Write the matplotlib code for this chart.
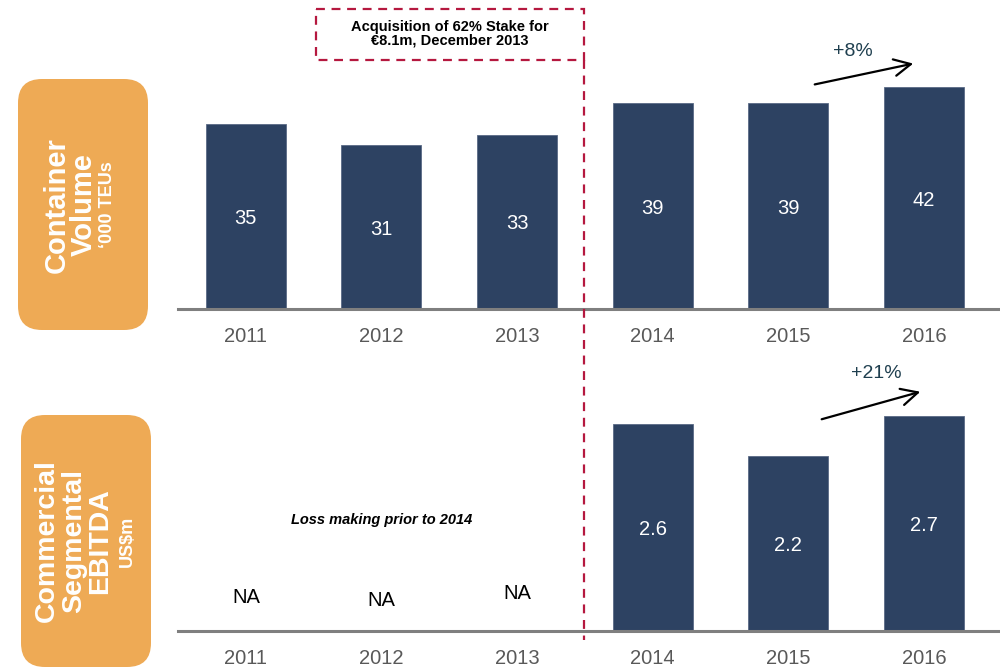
import numpy as np
import matplotlib.pyplot as plt
from matplotlib.patches import FancyBboxPatch, Rectangle

plt.rcParams['font.family'] = ['Liberation Sans', 'DejaVu Sans']

years = ['2011', '2012', '2013', '2014', '2015', '2016']
volume = [35, 31, 33, 39, 39, 42]
ebitda_years = ['2014', '2015', '2016']
ebitda = [2.6, 2.2, 2.7]
na_years = ['2011', '2012', '2013']
na_label_y = [0.45, 0.41, 0.50]

bar_color = '#2D4262'
orange = '#EEAA55'
red = '#B5183F'
teal = '#1F3F4F'
W, H = 1000, 668

fig = plt.figure(figsize=(10, 6.68), dpi=100)


def style_axes(ax):
    for s in ['top', 'left', 'right']:
        ax.spines[s].set_visible(False)
    ax.spines['bottom'].set_color('#7f7f7f')
    ax.spines['bottom'].set_linewidth(2.2)
    ax.set_yticks([])
    ax.set_xticks(range(len(years)))
    ax.set_xticklabels(years, fontsize=14.5, color='#595959')
    ax.tick_params(axis='x', length=0, pad=13)
    ax.set_xlim(-0.5, 5.56)
    ax.patch.set_alpha(0)


# top panel: container volume
ax1 = fig.add_axes([0.178, 359 / H, 0.822, 269 / H])
x = np.arange(len(years))
ax1.bar(x, volume, width=0.59, color=bar_color, edgecolor='#5a6a85', linewidth=0.6)
for xi, v in zip(x, volume):
    ax1.text(xi, v / 2, str(v), ha='center', va='center_baseline', color='white', fontsize=14.5)
ax1.set_ylim(0, 50.95)
style_axes(ax1)

# bottom panel: EBITDA
ax2 = fig.add_axes([0.178, 37 / H, 0.822, 251 / H])
xe = [years.index(y) for y in ebitda_years]
ax2.bar(xe, ebitda, width=0.59, color=bar_color, edgecolor='#5a6a85', linewidth=0.6)
for xi, v in zip(xe, ebitda):
    ax2.text(xi, v / 2, str(v), ha='center', va='center_baseline', color='white', fontsize=14.5)
for yr, ly in zip(na_years, na_label_y):
    ax2.text(years.index(yr), ly, 'NA', ha='center', va='center_baseline', color='black', fontsize=14.5)
ax2.text(1, 1.39, 'Loss making prior to 2014', ha='center', va='center',
         fontsize=10.5, fontweight='bold', fontstyle='italic')
ax2.set_ylim(0, 3.157)
style_axes(ax2)

# overlay in pixel coordinates for annotations
ax_over = fig.add_axes([0, 0, 1, 1])
ax_over.set_xlim(0, W)
ax_over.set_ylim(H, 0)
ax_over.axis('off')
ax_over.patch.set_alpha(0)

# growth arrows
ax_over.annotate('', xy=(916, 63), xytext=(812, 85),
                 arrowprops=dict(arrowstyle='->', color='black', lw=1.6, mutation_scale=30))
ax_over.text(853, 51, '+8%', ha='center', va='center', fontsize=14, color=teal)
ax_over.annotate('', xy=(923, 391), xytext=(819, 420),
                 arrowprops=dict(arrowstyle='->', color='black', lw=1.6, mutation_scale=30))
ax_over.text(876, 373, '+21%', ha='center', va='center', fontsize=14, color=teal)

# acquisition marker
ax_over.plot([584, 584], [60, 640], color=red, lw=1.6, ls=(0, (4, 3)))
ax_over.add_patch(Rectangle((316, 9), 268, 51, fill=False, edgecolor=red,
                            lw=1.6, ls=(0, (4, 3))))
ax_over.text(450, 34, 'Acquisition of 62% Stake for\n\u20ac8.1m, December 2013', ha='center',
             va='center', fontsize=10.5, fontweight='bold', linespacing=0.95)

# orange side boxes
ax_over.add_patch(FancyBboxPatch((18, 79), 130, 251, boxstyle='round,pad=0,rounding_size=24',
                                 facecolor=orange, edgecolor='none'))
ax_over.add_patch(FancyBboxPatch((21, 415), 130, 252, boxstyle='round,pad=0,rounding_size=24',
                                 facecolor=orange, edgecolor='none'))
for txt, xp, fs in [('Container', 57, 21), ('Volume', 84, 21), ('\u2018000 TEUs', 107, 13)]:
    ax_over.text(xp, 205, txt, rotation=90, ha='center', va='center', color='white',
                 fontsize=fs, fontweight='bold')
for txt, xp, fs in [('Commercial', 47, 20.5), ('Segmental', 74, 20.5), ('EBITDA', 100, 20.5),
                    ('US$m', 127, 13)]:
    ax_over.text(xp, 541, txt, rotation=90, ha='center', va='center', color='white',
                 fontsize=fs, fontweight='bold')

fig.savefig('out.png', dpi=100)
